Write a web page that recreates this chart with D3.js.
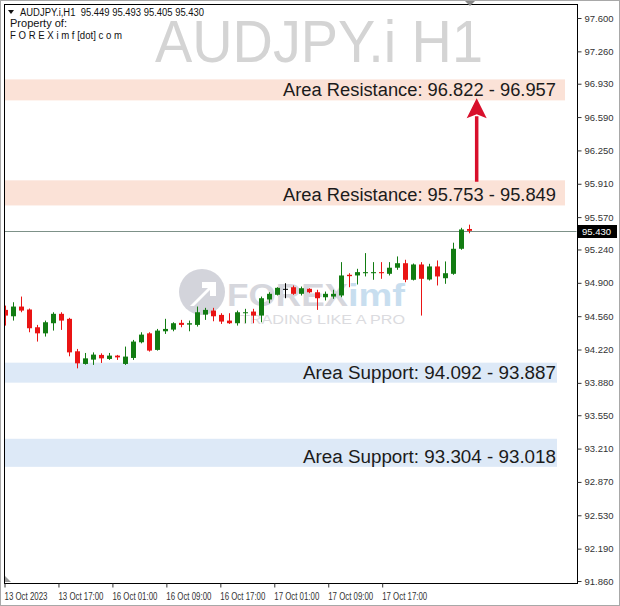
<!DOCTYPE html>
<html>
<head>
<meta charset="utf-8">
<script src="https://cdn.jsdelivr.net/npm/d3@7"></script>
<style>
  html, body { margin: 0; padding: 0; background: #fff; }
  svg { display: block; }
</style>
</head>
<body>
<div id="chart"></div>
<script>
// ---------------- DATA ----------------
const symbol = "AUDJPY.i,H1";
const watermark = "AUDJPY.i H1";
const headerOHLC = ["95.449", "95.493", "95.405", "95.430"];
const lastPrice = 95.430;

const opens = [94.624,94.559,94.658,94.628,94.447,94.385,94.488,94.584,94.533,94.202,
  94.073,94.117,94.165,94.124,94.158,94.073,94.134,94.294,94.385,94.216,
  94.406,94.423,94.492,94.474,94.471,94.576,94.617,94.573,94.515,94.488,
  94.590,94.607,94.566,94.730,94.778,94.839,94.855,94.788,94.839,94.804,
  94.753,94.760,94.771,94.982,94.975,94.998,94.998,95.009,94.992,95.054,
  95.100,94.931,95.087,94.934,95.067,94.947,94.992,95.247,95.449];
const highs = [94.668,94.702,94.760,94.638,94.471,94.515,94.600,94.600,94.543,94.226,
  94.185,94.191,94.181,94.185,94.165,94.250,94.318,94.396,94.396,94.430,
  94.533,94.498,94.522,94.515,94.658,94.645,94.645,94.590,94.590,94.617,
  94.635,94.635,94.760,94.804,94.855,94.896,94.873,94.862,94.845,94.829,
  94.811,94.829,95.111,94.998,95.043,95.203,95.111,95.111,95.111,95.169,
  95.135,95.097,95.111,95.094,95.128,95.118,95.309,95.461,95.493];
const lows = [94.464,94.515,94.600,94.396,94.301,94.352,94.413,94.420,94.151,94.028,
  94.066,94.063,94.083,94.114,94.114,94.063,94.114,94.283,94.199,94.209,
  94.379,94.406,94.447,94.406,94.454,94.522,94.508,94.481,94.481,94.464,
  94.488,94.488,94.498,94.692,94.771,94.743,94.778,94.771,94.794,94.624,
  94.720,94.737,94.753,94.855,94.883,94.965,94.931,94.941,94.975,95.033,
  94.906,94.924,94.566,94.924,94.873,94.890,94.982,95.237,95.405];
const closes = [94.566,94.658,94.617,94.437,94.385,94.498,94.584,94.515,94.191,94.079,
  94.130,94.168,94.130,94.158,94.140,94.148,94.301,94.372,94.209,94.413,
  94.430,94.488,94.471,94.488,94.600,94.624,94.559,94.505,94.488,94.600,
  94.600,94.566,94.743,94.788,94.849,94.839,94.788,94.845,94.804,94.743,
  94.788,94.788,94.975,94.968,95.009,95.009,95.009,94.998,95.054,95.100,
  94.931,95.087,94.941,95.067,94.965,94.998,95.247,95.444,95.430];

const yTickLabels = ["97.600","97.260","96.930","96.590","96.250","95.910","95.570","95.240",
  "94.900","94.560","94.220","93.880","93.550","93.210","92.870","92.530","92.190","91.860"];
const timeLabels = ["13 Oct 2023","13 Oct 17:00","16 Oct 01:00","16 Oct 09:00",
  "16 Oct 17:00","17 Oct 01:00","17 Oct 09:00","17 Oct 17:00"];

// zones: label text, drawn extent (top, bottom price), kind
const zoneLabels = ["Area Resistance: 96.822 - 96.957","Area Resistance: 95.753 - 95.849",
  "Area Support: 94.092 - 93.887","Area Support: 93.304 - 93.018"];
const zoneTops = [96.974, 95.945, 94.086, 93.310];
const zoneBottoms = [96.760, 95.689, 93.882, 93.024];
const zoneKinds = ["res","res","sup","sup"];

// arrow (bar index, from price, to price)
const arrowFrom = 95.931, arrowTo = 96.781, arrowBar = 58.96;

// ---------------- LAYOUT ----------------
const W = 620, H = 606;
const frame = {l: 4, t: 4, r: 577, b: 583};
const FONT = "Liberation Sans, Arial, sans-serif";

const x = d3.scaleLinear().domain([0, opens.length - 1]).range([5, 469]);
const y = d3.scaleLinear().domain([97.6, 91.86]).range([18, 581]);
const xt = d3.scaleLinear().domain([0, timeLabels.length - 1]).range([4, 381.7]);

const svg = d3.select("#chart").append("svg").attr("width", W).attr("height", H);
svg.append("rect").attr("width", W).attr("height", H).attr("fill", "#fff");
// outer window border
svg.append("rect").attr("x", 0.5).attr("y", 0.5).attr("width", W - 1).attr("height", H - 1)
  .attr("fill", "none").attr("stroke", "#a8a8a8");

svg.append("defs").append("clipPath").attr("id", "plot")
  .append("rect").attr("x", frame.l + 0.5).attr("y", frame.t + 0.5)
  .attr("width", frame.r - frame.l - 1).attr("height", frame.b - frame.t - 1);

const plot = svg.append("g").attr("clip-path", "url(#plot)");

// big watermark
plot.append("text").text(watermark)
  .attr("x", 155).attr("y", 62)
  .attr("font-family", FONT).attr("font-size", 60)
  .attr("textLength", 328).attr("lengthAdjust", "spacingAndGlyphs")
  .attr("fill", "#d4d4d4");

// logo watermark
const logo = plot.append("g").attr("opacity", 0.9);
logo.append("circle").attr("cx", 202).attr("cy", 292).attr("r", 23).attr("fill", "#cfd0d8");
logo.append("path").attr("d", "M190,306 L208,288 L202,288 L202,282 L216,282 L216,296 L210,296 L210,290 L194,306 Z")
  .attr("fill", "#fff");
logo.append("text").text("FOREX").attr("x", 227).attr("y", 306)
  .attr("font-family", FONT).attr("font-weight", "bold")
  .attr("font-size", 32).attr("textLength", 121).attr("lengthAdjust", "spacingAndGlyphs")
  .attr("fill", "#d2d3da");
logo.append("text").text("imf").attr("x", 348).attr("y", 306)
  .attr("font-family", FONT).attr("font-weight", "bold")
  .attr("font-size", 32).attr("textLength", 57).attr("lengthAdjust", "spacingAndGlyphs")
  .attr("fill", "#c3dbee");
logo.append("text").text("TRADING LIKE A PRO").attr("x", 240).attr("y", 324)
  .attr("font-family", FONT)
  .attr("font-size", 12).attr("textLength", 165).attr("lengthAdjust", "spacingAndGlyphs")
  .attr("fill", "#d8d8dc");

// zones
const zoneRight = {res: 565, sup: 557};
const zoneFill = {res: "#fbe2d7", sup: "#dde9f7"};
zoneLabels.forEach((lab, i) => {
  const yt = y(zoneTops[i]), yb = y(zoneBottoms[i]);
  plot.append("rect").attr("x", frame.l).attr("y", yt)
    .attr("width", zoneRight[zoneKinds[i]] - frame.l).attr("height", yb - yt)
    .attr("fill", zoneFill[zoneKinds[i]]);
});

// price line
plot.append("line").attr("x1", frame.l).attr("x2", frame.r)
  .attr("y1", Math.round(y(lastPrice)) + 0.5).attr("y2", Math.round(y(lastPrice)) + 0.5)
  .attr("stroke", "#7d9188").attr("stroke-width", 1);

// candles
const data = opens.map((o, i) => ({i, o, h: highs[i], l: lows[i], c: closes[i]}));
const col = d => d.c > d.o ? "#127c12" : (d.c < d.o ? "#ea1414" : "#000");
const cg = plot.append("g");
cg.selectAll("line.wick").data(data).join("line")
  .attr("x1", d => Math.round(x(d.i)) + 0.5).attr("x2", d => Math.round(x(d.i)) + 0.5)
  .attr("y1", d => y(d.h)).attr("y2", d => y(d.l))
  .attr("stroke", col).attr("stroke-width", 1);
cg.selectAll("rect.body").data(data).join("rect")
  .attr("x", d => Math.round(x(d.i)) - 2).attr("width", 5)
  .attr("y", d => Math.min(y(d.o), y(d.c)))
  .attr("height", d => Math.max(1, Math.abs(y(d.o) - y(d.c))))
  .attr("fill", col);

// zone labels
const zoneWidths = [273, 273, 253, 253];
zoneLabels.forEach((lab, i) => {
  const yb = y(zoneBottoms[i]);
  plot.append("text").text(lab)
    .attr("x", 556).attr("y", yb - 4).attr("text-anchor", "end")
    .attr("font-family", FONT).attr("font-size", 18)
    .attr("textLength", zoneWidths[i]).attr("lengthAdjust", "spacingAndGlyphs")
    .attr("fill", "#1b1b1b");
});

// arrow
const ax = x(arrowBar);
const ay1 = y(arrowFrom), ay2 = y(arrowTo);
plot.append("line").attr("x1", ax).attr("x2", ax).attr("y1", ay1).attr("y2", ay2 + 18)
  .attr("stroke", "#d8102c").attr("stroke-width", 3.5);
plot.append("path")
  .attr("d", `M${ax},${ay2} L${ax - 10},${ay2 + 20} L${ax},${ay2 + 16} L${ax + 10},${ay2 + 20} Z`)
  .attr("fill", "#d8102c");

// header texts
const hdr = svg.append("g").attr("font-family", FONT)
  .attr("font-size", 10).attr("fill", "#111");
hdr.append("path").attr("d", "M8,10 L14,10 L11,14 Z").attr("fill", "#111");
hdr.append("text").text(symbol + "  " + headerOHLC.join(" ")).attr("x", 20).attr("y", 16)
  .attr("textLength", 184).attr("lengthAdjust", "spacingAndGlyphs").attr("xml:space", "preserve");
hdr.append("text").text("Property of:").attr("x", 10).attr("y", 27)
  .attr("textLength", 57).attr("lengthAdjust", "spacingAndGlyphs");
hdr.append("text").text("F O R E X i m f [dot] c o m").attr("x", 10).attr("y", 39)
  .attr("textLength", 112).attr("lengthAdjust", "spacingAndGlyphs");

// frame
svg.append("rect").attr("x", frame.l + 0.5).attr("y", frame.t + 0.5)
  .attr("width", frame.r - frame.l).attr("height", frame.b - frame.t)
  .attr("fill", "none").attr("stroke", "#000");

// shift marker at top and bottom-left
svg.append("path").attr("d", "M465,1 L475,1 L470,6 Z").attr("fill", "#8a8a8a");
svg.append("path").attr("d", "M5,576 L5,582 L11,582 Z").attr("fill", "#9a9a9a");

// right axis
const yAxis = d3.axisRight(y)
  .tickValues(yTickLabels.map(Number))
  .tickFormat((d, i) => yTickLabels[i])
  .tickSize(4).tickPadding(3);
const ga = svg.append("g").attr("transform", `translate(${frame.r + 0.5},0)`).call(yAxis);
ga.select(".domain").remove();
ga.selectAll("line").attr("stroke", "#333");
ga.selectAll("text").attr("font-family", FONT)
  .attr("font-size", 9.5).attr("fill", "#333");

// last price label
const ly = Math.round(y(lastPrice));
svg.append("rect").attr("x", frame.r + 1).attr("y", ly - 6).attr("width", 39).attr("height", 13)
  .attr("fill", "#000");
svg.append("text").text(lastPrice.toFixed(3)).attr("x", frame.r + 5).attr("y", ly + 4)
  .attr("font-family", FONT).attr("font-size", 9.5)
  .attr("fill", "#fff");

// bottom time axis
const xAxis = d3.axisBottom(xt).tickValues(d3.range(timeLabels.length))
  .tickFormat((d, i) => timeLabels[i]).tickSize(4).tickPadding(5);
const gx = svg.append("g").attr("transform", `translate(0,${frame.b + 0.5})`).call(xAxis);
gx.select(".domain").remove();
gx.selectAll("line").attr("stroke", "#333").attr("transform", "translate(0.5,0)");
gx.selectAll("text").attr("text-anchor", "start")
  .attr("font-family", FONT)
  .attr("font-size", 10).attr("fill", "#333")
  .attr("textLength", (d, i) => i === 0 ? 43 : 45).attr("lengthAdjust", "spacingAndGlyphs");
</script>
</body>
</html>
